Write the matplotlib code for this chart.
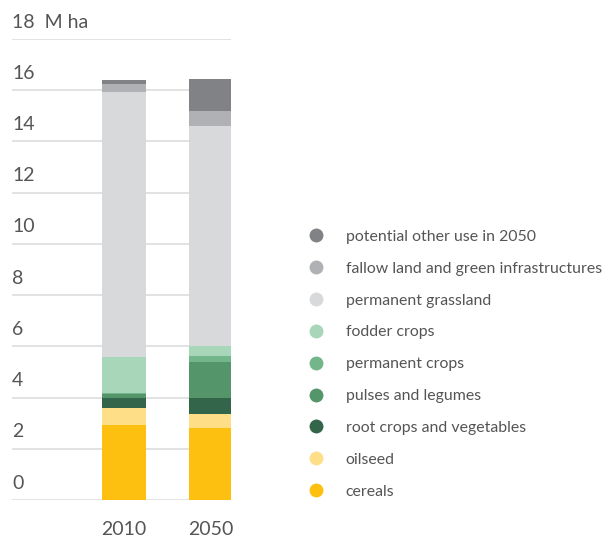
import numpy as np
import matplotlib.pyplot as plt
from matplotlib.lines import Line2D

plt.rcParams['font.family'] = ['Lato', 'DejaVu Sans']

years = ['2010', '2050']
categories = ['cereals', 'oilseed', 'root crops and vegetables', 'pulses and legumes',
              'permanent crops', 'fodder crops', 'permanent grassland',
              'fallow land and green infrastructures', 'potential other use in 2050']
# values per category (M ha), 2010 and 2050
cereals = [2.93, 2.81]
oilseed = [0.66, 0.55]
root_crops = [0.39, 0.62]
pulses = [0.15, 1.41]
permanent_crops = [0.05, 0.24]
fodder = [1.41, 0.39]
grassland = [10.36, 8.60]
fallow = [0.30, 0.58]
other_use = [0.15, 1.25]
series = [cereals, oilseed, root_crops, pulses, permanent_crops, fodder, grassland, fallow, other_use]
colors = ['#FDC010', '#FFDE88', '#33654A', '#55956A', '#72B68A', '#A8D6B8',
          '#D8D9DB', '#B0B1B4', '#808285']
yticks = [0, 2, 4, 6, 8, 10, 12, 14, 16, 18]

txt = '#555555'
fig = plt.figure(figsize=(6.08, 5.38), dpi=100)
ax = fig.add_axes([12/608, 38/538, 219/608, 461/538])

x = np.arange(len(years))
bottom = np.zeros(len(years))
for vals, c in zip(series, colors):
    ax.bar(x, vals, width=0.506, bottom=bottom, color=c, zorder=3)
    bottom += np.array(vals)

for t in yticks:
    ax.axhline(t, color='#dddddd', lw=1.2, zorder=1)
    lab = str(t) if t != 18 else '18  M ha'
    ax.text(-1.287, t + 0.33, lab, fontsize=14, color=txt, va='bottom', ha='left')

ax.set_xlim(-1.287, 1.230)
ax.set_ylim(0, 18)
ax.set_xticks(x)
ax.set_xticklabels(years, fontsize=14, color=txt)
ax.tick_params(axis='x', length=0, pad=15)
ax.set_yticks([])
for s in ax.spines.values():
    s.set_visible(False)
ax.set_facecolor('none')

handles = [Line2D([], [], marker='o', ls='none', markersize=10, markerfacecolor=c,
                  markeredgecolor='none') for c in colors]
leg = fig.legend(handles[::-1], categories[::-1], loc='upper left',
                 bbox_to_anchor=(292/608, 1 - 222/538), frameon=False, fontsize=11.4,
                 labelcolor=txt, handletextpad=0.9, labelspacing=1.12, borderpad=0)

fig.savefig('out.png', dpi=100)
